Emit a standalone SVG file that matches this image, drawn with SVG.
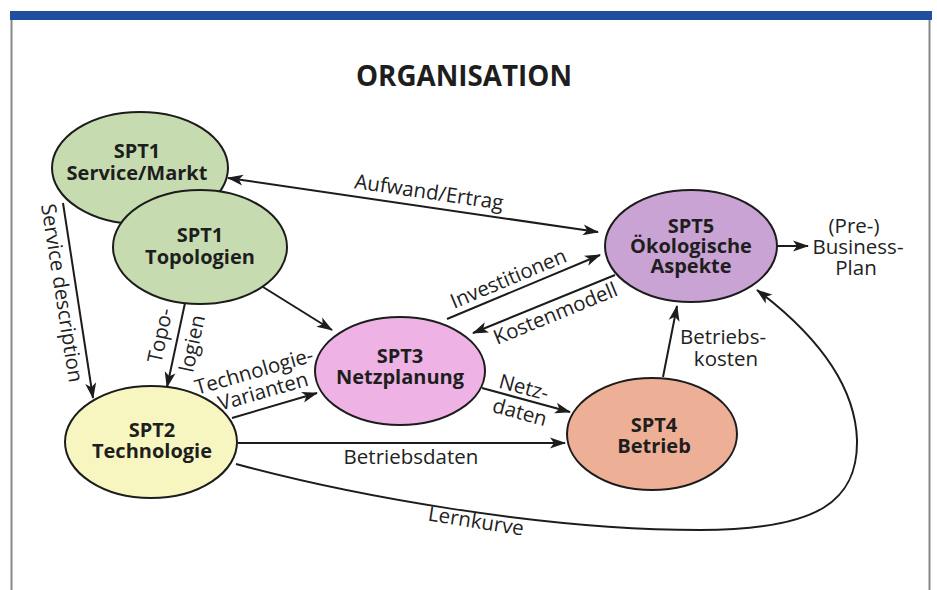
<svg xmlns="http://www.w3.org/2000/svg" width="937" height="590" viewBox="0 0 937 590">
<defs>
<style>
.n{stroke:#1c1c1c;stroke-width:2}
.nt{font-family:"Open Sans","Noto Sans","Liberation Sans",sans-serif;font-weight:bold;font-size:20px;fill:#1e1e1e;text-anchor:middle}
.l{font-family:"Open Sans","Noto Sans","Liberation Sans",sans-serif;font-size:20.5px;fill:#222;text-anchor:middle}
.e{stroke:#1c1c1c;stroke-width:2;fill:none}
</style>
<marker id="ah" markerWidth="16" markerHeight="12" refX="15" refY="6" orient="auto-start-reverse" markerUnits="userSpaceOnUse">
<path d="M0,0.5 L16,6 L0,11.5 L4,6 z" fill="#1c1c1c"/>
</marker>
</defs>
<rect width="937" height="590" fill="#fff"/>
<rect x="10" y="11" width="922" height="9" fill="#1f4f9e"/>
<line x1="11.5" y1="20" x2="11.5" y2="590" stroke="#888" stroke-width="2"/>
<line x1="929.5" y1="20" x2="929.5" y2="590" stroke="#888" stroke-width="2"/>
<text x="464" y="86" font-family="'Open Sans','Noto Sans','Liberation Sans',sans-serif" font-weight="bold" font-size="29" fill="#1e1e1e" text-anchor="middle" textLength="216" lengthAdjust="spacingAndGlyphs">ORGANISATION</text>

<g id="connectors">
<line class="e" x1="228" y1="178" x2="598" y2="232" marker-start="url(#ah)" marker-end="url(#ah)"/>
<text class="l" transform="translate(428,199) rotate(8.3)">Aufwand/Ertrag</text>
<line class="e" x1="63" y1="203" x2="93" y2="398" marker-end="url(#ah)"/>
<text class="l" style="text-anchor:start" transform="translate(41,205) rotate(81)">Service description</text>
<line class="e" x1="185" y1="303" x2="167" y2="387" marker-end="url(#ah)"/>
<text class="l" transform="translate(167,337) rotate(-78)">Topo-</text>
<text class="l" transform="translate(199,345) rotate(-78)">logien</text>
<line class="e" x1="263" y1="287" x2="332" y2="330" marker-end="url(#ah)"/>
<line class="e" x1="232" y1="418" x2="317" y2="393" marker-end="url(#ah)"/>
<text class="l" transform="translate(256,378) rotate(-16)">Technologie-</text>
<text class="l" transform="translate(265,398) rotate(-16)">Varianten</text>
<line class="e" x1="447" y1="319" x2="600" y2="255" marker-end="url(#ah)"/>
<text class="l" transform="translate(511,285) rotate(-22.7)">Investitionen</text>
<line class="e" x1="615" y1="275" x2="473" y2="333" marker-end="url(#ah)"/>
<text class="l" transform="translate(558,320) rotate(-22.2)">Kostenmodell</text>
<line class="e" x1="482" y1="388" x2="570" y2="412" marker-end="url(#ah)"/>
<text class="l" transform="translate(522,394) rotate(15)">Netz-</text>
<text class="l" transform="translate(518,419) rotate(15)">daten</text>
<line class="e" x1="238" y1="443" x2="565" y2="443" marker-end="url(#ah)"/>
<text class="l" x="411" y="464">Betriebsdaten</text>
<line class="e" x1="663" y1="377" x2="677" y2="306" marker-end="url(#ah)"/>
<text class="l" x="723" y="344">Betriebs-</text>
<text class="l" x="726" y="366">kosten</text>
<line class="e" x1="777" y1="246" x2="808" y2="246" marker-end="url(#ah)"/>
<text class="l" x="854" y="233">(Pre-)</text>
<text class="l" x="858" y="254">Business-</text>
<text class="l" x="856" y="275">Plan</text>
<path class="e" d="M236,464 C350,495 540,530 700,530 C820,530 858,500 857,440 C855,380 810,330 757,290" marker-end="url(#ah)"/>
<text class="l" transform="translate(475,528) rotate(9)">Lernkurve</text>
</g>

<g id="spt1-markt">
<ellipse class="n" cx="140" cy="168" rx="88" ry="56" fill="#c6dcb0"/>
<text class="nt" x="137" y="158">SPT1</text>
<text class="nt" x="137" y="180">Service/Markt</text>
</g>
<g id="spt1-topologien">
<ellipse class="n" cx="200" cy="247" rx="87" ry="57" fill="#c6dcb0"/>
<text class="nt" x="200" y="242">SPT1</text>
<text class="nt" x="200" y="264">Topologien</text>
</g>
<g id="spt2">
<ellipse class="n" cx="151" cy="442" rx="86" ry="56" fill="#f8f6c0"/>
<text class="nt" x="152" y="437">SPT2</text>
<text class="nt" x="152" y="458">Technologie</text>
</g>
<g id="spt3">
<ellipse class="n" cx="400" cy="371" rx="85" ry="54" fill="#eeb2e4"/>
<text class="nt" x="400" y="363">SPT3</text>
<text class="nt" x="400" y="384">Netzplanung</text>
</g>
<g id="spt4">
<ellipse class="n" cx="652" cy="434" rx="85" ry="56" fill="#edaf95"/>
<text class="nt" x="654" y="432">SPT4</text>
<text class="nt" x="654" y="453">Betrieb</text>
</g>
<g id="spt5">
<ellipse class="n" cx="691" cy="246" rx="86" ry="56" fill="#c9a3d4"/>
<text class="nt" x="691" y="233">SPT5</text>
<text class="nt" x="691" y="253">Ökologische</text>
<text class="nt" x="691" y="273">Aspekte</text>
</g>
</svg>
